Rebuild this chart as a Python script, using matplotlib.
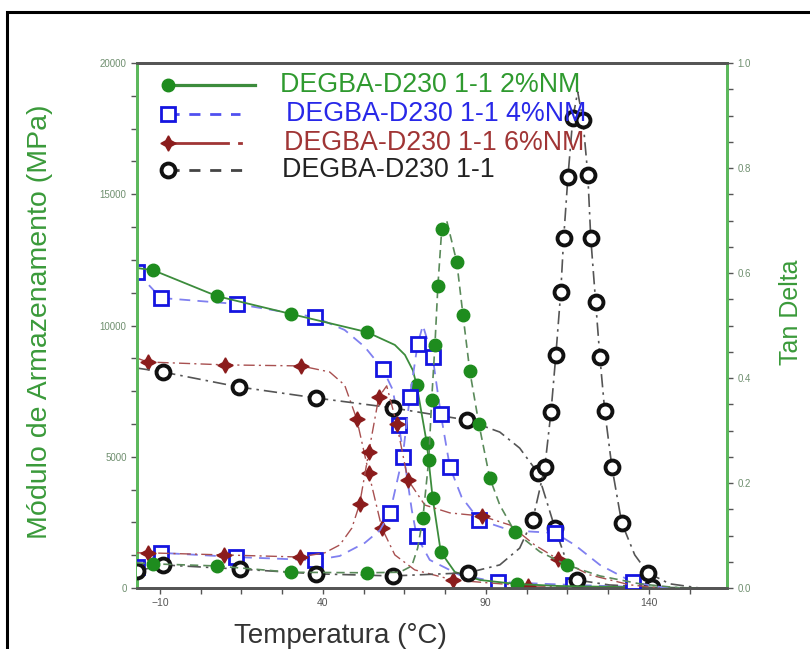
import matplotlib
matplotlib.use("Agg")
import matplotlib.pyplot as plt
from matplotlib.lines import Line2D
from matplotlib.patches import Rectangle
from matplotlib.ticker import FixedLocator, MultipleLocator
import numpy as np

plt.rcParams['font.family'] = ['Liberation Sans', 'DejaVu Sans']

# ---- series: temperature (°C), storage modulus (MPa), tan delta ----
labels = ["DEGBA-D230 1-1 2%NM", "DEGBA-D230 1-1 4%NM",
          "DEGBA-D230 1-1 6%NM", "DEGBA-D230 1-1"]

# 2%NM
g_mod_t = [-17.1, -12.1, 7.5, 30.2, 53.5, 62.1, 65.2, 67.6, 68.8, 71.9, 73.7, 76.2, 80.5, 88.2, 99.5, 112.7, 131.0, 155.6]
g_mod_v = [12190, 12110, 11120, 10440, 9750, 9260, 8880, 8300, 7730, 5520, 3430, 1370, 610, 305, 150, 76, 38, 0]
g_mod_mk = [1, 2, 3, 4, 8, 9, 10, 11, 14]
g_tan_t = [-17.1, -12.1, 7.5, 30.2, 53.5, 63.6, 67.3, 69.1, 70.7, 72.5, 73.4, 74.4, 75.3, 76.5, 78.0, 81.1, 83.0, 85.1, 87.9, 91.2, 94.3, 98.9, 106.6, 114.8, 125.0, 137.2, 149.5]
g_tan_v = [0.048, 0.046, 0.042, 0.030, 0.029, 0.030, 0.042, 0.076, 0.133, 0.244, 0.358, 0.463, 0.575, 0.684, 0.700, 0.621, 0.520, 0.413, 0.312, 0.210, 0.158, 0.107, 0.069, 0.044, 0.023, 0.008, 0.0]
g_tan_mk = [1, 2, 3, 4, 8, 9, 10, 11, 12, 13, 15, 16, 17, 18, 19, 21, 23]

# 4%NM
b_mod_t = [-17.1, -9.7, 13.6, 37.5, 46.7, 52.9, 58.4, 61.5, 63.3, 65.5, 67.3, 68.8, 72.8, 82.0, 93.7, 116.7, 137.2, 149.5]
b_mod_v = [12040, 11050, 10820, 10320, 9830, 9180, 8340, 7540, 6210, 4500, 2970, 1980, 1070, 495, 230, 115, 38, 0]
b_mod_mk = [0, 1, 2, 3, 6, 8, 11, 14, 15]
b_tan_t = [-17.1, -9.7, 13.3, 37.5, 45.2, 52.9, 57.5, 60.6, 64.5, 66.7, 69.1, 70.7, 73.7, 76.2, 79.0, 82.6, 87.9, 97.4, 105.0, 111.2, 117.3, 125.0, 135.1, 143.4, 149.5]
b_tan_v = [0.040, 0.067, 0.059, 0.053, 0.061, 0.086, 0.110, 0.143, 0.250, 0.364, 0.465, 0.500, 0.440, 0.331, 0.230, 0.173, 0.130, 0.110, 0.107, 0.105, 0.082, 0.044, 0.011, 0.002, 0.0]
b_tan_mk = [0, 1, 2, 3, 7, 8, 9, 10, 12, 13, 14, 16, 19, 22]

# 6%NM
r_mod_t = [-17.1, -13.7, 10.0, 33.3, 42.1, 46.7, 50.4, 54.1, 58.1, 62.1, 68.2, 79.9, 102.9, 125.0, 149.5]
r_mod_v = [8760, 8610, 8500, 8460, 8230, 7730, 6440, 4380, 2290, 1260, 690, 305, 76, 38, 0]
r_mod_mk = [1, 2, 3, 6, 7, 8, 11, 12]
r_tan_t = [-17.1, -13.7, 9.6, 33.0, 40.6, 45.2, 48.9, 51.3, 54.1, 57.2, 59.6, 62.7, 66.1, 71.3, 79.0, 88.8, 97.4, 105.0, 112.1, 121.9, 134.2, 143.4]
r_tan_v = [0.067, 0.067, 0.063, 0.059, 0.067, 0.082, 0.114, 0.160, 0.259, 0.364, 0.385, 0.312, 0.206, 0.158, 0.143, 0.137, 0.120, 0.082, 0.055, 0.025, 0.006, 0.0]
r_tan_mk = [1, 2, 3, 7, 8, 9, 11, 12, 15, 18]

# 1-1 (no NM)
k_mod_t = [-17.1, -9.1, 14.2, 37.9, 61.5, 84.2, 94.3, 100.4, 106.0, 111.2, 114.3, 117.9, 128.0, 140.9, 152.6]
k_mod_v = [8380, 8230, 7660, 7240, 6860, 6400, 5940, 5330, 4380, 2290, 1180, 305, 115, 38, 0]
k_mod_mk = [1, 2, 3, 4, 5, 8, 9, 11, 13]
k_tan_t = [-17.1, -9.1, 14.5, 37.9, 61.5, 84.5, 94.3, 100.4, 104.4, 108.1, 110.0, 111.5, 113.0, 113.9, 115.2, 116.7, 118.2, 119.8, 121.3, 122.2, 123.7, 125.0, 126.5, 128.7, 131.7, 135.7, 139.7, 146.4, 155.6]
k_tan_v = [0.032, 0.044, 0.036, 0.027, 0.023, 0.029, 0.044, 0.076, 0.130, 0.230, 0.335, 0.444, 0.564, 0.667, 0.783, 0.895, 0.945, 0.891, 0.787, 0.667, 0.545, 0.440, 0.337, 0.230, 0.124, 0.063, 0.029, 0.008, 0.0]
k_tan_mk = [0, 1, 2, 3, 4, 5, 8, 9, 10, 11, 12, 13, 14, 15, 17, 18, 19, 20, 21, 22, 23, 24, 26]

x_major = [-10, 40, 90, 140]

# ---- styles ----
GREEN = '#1e8c1e'
BLUE = '#1515e0'
RED = '#8b1c1c'
BLACK = '#111111'
styles = {
    'g': dict(marker='o', ms=9, mfc=GREEN, mec=GREEN, mew=1),
    'b': dict(marker='s', ms=9.5, mfc='white', mec=BLUE, mew=2),
    'r': dict(marker=(4, 1, 0), ms=11, mfc=RED, mec=RED, mew=1),
    'k': dict(marker='o', ms=10, mfc='white', mec=BLACK, mew=2.8),
}
lines = {
    'g_mod': dict(color='#3c8c3c', lw=1.3, ls='-'),
    'g_tan': dict(color='#5a8a5a', lw=1.2, ls=(0, (5, 3))),
    'b': dict(color='#8080f0', lw=1.3, ls=(0, (6, 4))),
    'r': dict(color='#a85050', lw=1.0, ls=(0, (8, 3, 1.5, 3))),
    'k': dict(color='#555555', lw=1.2, ls=(0, (8, 3, 1.5, 3))),
}

fig = plt.figure(figsize=(8.1, 6.49), dpi=100)
ax = fig.add_axes([137 / 810, 61 / 649, 590 / 810, 525 / 649])
ax2 = ax.twinx()

ax.set_xlim(-17, 164)
ax.set_ylim(0, 20000)
ax2.set_ylim(0, 1.0)

# modulus curves (left axis)
ax.plot(g_mod_t, g_mod_v, markevery=g_mod_mk, **lines['g_mod'], **styles['g'], zorder=4)
ax.plot(b_mod_t, b_mod_v, markevery=b_mod_mk, **lines['b'], **styles['b'], zorder=3)
ax.plot(r_mod_t, r_mod_v, markevery=r_mod_mk, **lines['r'], **styles['r'], zorder=3)
ax.plot(k_mod_t, k_mod_v, markevery=k_mod_mk, **lines['k'], **styles['k'], zorder=3)

# tan delta curves (right axis)
ax2.plot(g_tan_t, g_tan_v, markevery=g_tan_mk, **lines['g_tan'], **styles['g'], zorder=4)
ax2.plot(b_tan_t, b_tan_v, markevery=b_tan_mk, **lines['b'], **styles['b'], zorder=3)
ax2.plot(r_tan_t, r_tan_v, markevery=r_tan_mk, **lines['r'], **styles['r'], zorder=3)
ax2.plot(k_tan_t, k_tan_v, markevery=k_tan_mk, **lines['k'], **styles['k'], zorder=3)

# ---- axes styling ----
AX_GREEN = '#5cb85c'
for a in (ax, ax2):
    a.spines['top'].set_color('#555555')
    a.spines['bottom'].set_color('#555555')
    a.spines['top'].set_linewidth(2)
    a.spines['bottom'].set_linewidth(2)
    a.spines['left'].set_color(AX_GREEN)
    a.spines['right'].set_color(AX_GREEN)
    a.spines['left'].set_linewidth(2)
    a.spines['right'].set_linewidth(2)

ax.xaxis.set_major_locator(FixedLocator(x_major))
ax.xaxis.set_minor_locator(FixedLocator(np.arange(-10, 165, 12.5)))
ax.yaxis.set_major_locator(MultipleLocator(5000))
ax.yaxis.set_minor_locator(MultipleLocator(1250))
ax2.yaxis.set_major_locator(MultipleLocator(0.2))
ax2.yaxis.set_minor_locator(MultipleLocator(0.05))
ax2.yaxis.set_major_formatter(plt.FuncFormatter(lambda v, p: f"{v:.1f}"))

ax.tick_params(axis='x', which='both', direction='out', color='#555555', labelcolor='#555555', labelsize=7.5, length=4, width=1, top=False)
ax.tick_params(axis='y', which='both', direction='out', color='#555555', labelcolor='#6f8f6f', labelsize=7, length=4, width=1)
ax2.tick_params(axis='y', which='both', direction='out', color='#555555', labelcolor='#6f8f6f', labelsize=7, length=4, width=1)

# ---- legend ----
rows = [0.958, 0.903, 0.848, 0.797]
text_x = [0.242, 0.252, 0.249, 0.246]
text_colors = ['#2f9a2f', '#2828e8', '#a03535', '#222222']
tr = ax2.transAxes
x0 = 0.0525
# 2%NM
ax2.add_line(Line2D([x0, 0.20], [rows[0]] * 2, color='#3c8c3c', lw=2.3, transform=tr, clip_on=False))
ax2.add_line(Line2D([x0], [rows[0]], ls='none', transform=tr, clip_on=False, **styles['g']))
# 4%NM
ax2.add_line(Line2D([x0, 0.175], [rows[1]] * 2, color='#5050f0', lw=2, ls=(0, (4, 3.5)), transform=tr, clip_on=False))
ax2.add_line(Line2D([x0], [rows[1]], ls='none', transform=tr, clip_on=False, **styles['b']))
# 6%NM
ax2.add_line(Line2D([x0, 0.155], [rows[2]] * 2, color='#a03535', lw=2, transform=tr, clip_on=False))
ax2.add_line(Line2D([0.173, 0.176], [rows[2]] * 2, color='#a03535', lw=2, transform=tr, clip_on=False))
ax2.add_line(Line2D([x0], [rows[2]], ls='none', transform=tr, clip_on=False, **styles['r']))
# 1-1
ax2.add_line(Line2D([x0, 0.178], [rows[3]] * 2, color='#444444', lw=2, ls=(0, (4, 3.5)), transform=tr, clip_on=False))
ax2.add_line(Line2D([x0], [rows[3]], ls='none', transform=tr, clip_on=False, **styles['k']))
for lab, y, x, c in zip(labels, rows, text_x, text_colors):
    ax2.text(x, y, lab, transform=tr, color=c, fontsize=19.3, va='center', ha='left')

# ---- axis titles ----
fig.text(40 / 810, 1 - 322 / 649, 'Módulo de Armazenamento (MPa)', rotation=90,
         ha='center', va='center', color='#3a9a3a', fontsize=20.5)
fig.text(791 / 810, 1 - 312 / 649, 'Tan Delta', rotation=90,
         ha='center', va='center', color='#3a9a3a', fontsize=18)
fig.text(340 / 810, 1 - 636 / 649, 'Temperatura (°C)',
         ha='center', va='center', color='#333333', fontsize=20)

# outer frame
fig.patches.append(Rectangle((7 / 810, -0.05), 1.2, 1.05 - 12 / 649, transform=fig.transFigure,
                             fill=False, ec='black', lw=2.2, clip_on=False))

fig.savefig('out.png', dpi=100)
